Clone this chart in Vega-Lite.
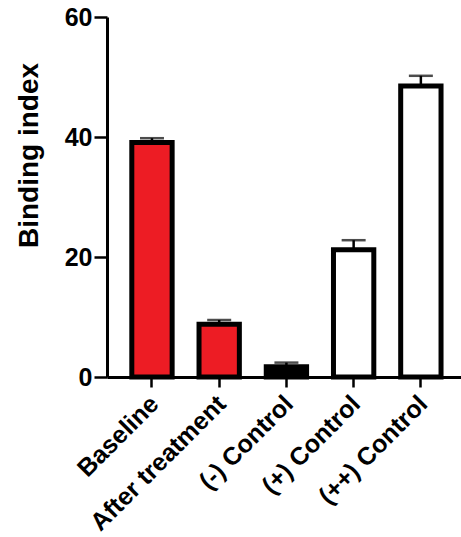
{
  "$schema": "https://vega.github.io/schema/vega-lite/v6.json",
  "autosize": "none",
  "padding": {"left": 107, "top": 17, "right": 0, "bottom": 160},
  "width": 354,
  "height": 360,
  "background": "white",
  "config": {
    "view": {"stroke": null},
    "font": "Liberation Sans"
  },
  "data": {
    "values": [
      {"group": "Baseline", "mean": 39.1, "hi": 39.8, "fill": "red"},
      {"group": "After treatment", "mean": 8.8, "hi": 9.5, "fill": "red"},
      {"group": "(-) Control", "mean": 1.7, "hi": 2.4, "fill": "black"},
      {"group": "(+) Control", "mean": 21.2, "hi": 22.8, "fill": "white"},
      {"group": "(++) Control", "mean": 48.5, "hi": 50.2, "fill": "white"}
    ]
  },
  "encoding": {
    "x": {
      "field": "group",
      "type": "nominal",
      "sort": null,
      "scale": {"paddingInner": 0.4, "paddingOuter": 0.333, "align": 0.554},
      "axis": {
        "title": null,
        "labelAngle": -45,
        "labelLimit": 400,
        "labelFont": "Liberation Sans",
        "labelFontWeight": "bold",
        "labelFontSize": 25,
        "labelColor": "black",
        "labelPadding": 4,
        "labelOffset": -6,
        "domainColor": "black",
        "domainWidth": 3,
        "tickColor": "black",
        "tickWidth": 2.5,
        "tickSize": 10
      }
    }
  },
  "layer": [
    {
      "mark": {"type": "rule", "color": "black", "strokeWidth": 2.5},
      "encoding": {
        "y": {"field": "mean", "type": "quantitative"},
        "y2": {"field": "hi"}
      }
    },
    {
      "mark": {"type": "tick", "color": "black", "size": 24, "thickness": 2.5, "orient": "horizontal"},
      "encoding": {
        "y": {"field": "hi", "type": "quantitative"}
      }
    },
    {
      "mark": {"type": "bar", "stroke": "black", "strokeWidth": 5},
      "encoding": {
        "y": {
          "field": "mean",
          "type": "quantitative",
          "scale": {"domain": [0, 60], "nice": false, "zero": true},
          "axis": {
            "title": "Binding index",
            "titleFont": "Liberation Sans",
            "titleFontWeight": "bold",
            "titleFontSize": 28,
            "titleColor": "black",
            "titlePadding": 21,
            "titleY": 138,
            "values": [0, 20, 40, 60],
            "labelFont": "Liberation Sans",
            "labelFontWeight": "bold",
            "labelFontSize": 25,
            "labelColor": "black",
            "labelPadding": 2,
            "domainColor": "black",
            "domainWidth": 3,
            "tickColor": "black",
            "tickWidth": 2.5,
            "tickSize": 13,
            "grid": false
          }
        },
        "fill": {
          "field": "fill",
          "type": "nominal",
          "scale": {"domain": ["red", "black", "white"], "range": ["#ED1C24", "#000000", "#FFFFFF"]},
          "legend": null
        }
      }
    }
  ]
}
